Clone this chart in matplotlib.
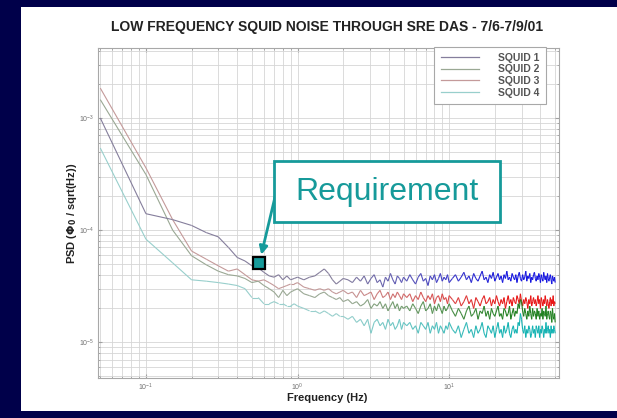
import numpy as np
import matplotlib
matplotlib.use('Agg')
import matplotlib.pyplot as plt
from matplotlib.collections import LineCollection
from matplotlib.lines import Line2D
from matplotlib.patches import Rectangle
from matplotlib.ticker import NullFormatter
import matplotlib.colors as mcolors

plt.rcParams['font.family'] = ['Liberation Sans', 'DejaVu Sans']

# Frequency grid (Hz)
freq = [0.05, 0.1, 0.15, 0.2, 0.25, 0.3, 0.35, 0.4, 0.45, 0.5,
        0.55, 0.6, 0.65, 0.7, 0.75, 0.8, 0.85, 0.9, 0.95, 1.0,
        1.1, 1.2, 1.3, 1.4, 1.5, 1.6, 1.7, 1.8, 1.9, 2.0,
        2.15, 2.3, 2.45, 2.6, 2.75, 2.9, 3.05, 3.2, 3.35, 3.5,
        3.65, 3.8, 3.95, 4.1, 4.25, 4.4, 4.55, 4.7, 4.85, 5.0,
        5.25, 5.5, 5.75, 6.0, 6.25, 6.5, 6.75, 7.0, 7.25, 7.5,
        7.75, 8.0, 8.25, 8.5, 8.75, 9.0, 9.25, 9.5, 9.75, 10.0,
        10.5, 11, 11.5, 12, 12.5, 13, 13.5, 14, 14.5, 15,
        15.5, 16, 16.5, 17, 17.5, 18, 18.5, 19, 19.5, 20,
        20.5, 21, 21.5, 22, 22.5, 23, 23.5, 24, 24.5, 25,
        25.5, 26, 26.5, 27, 27.5, 28, 28.5, 29, 29.5, 30,
        30.5, 31, 31.5, 32, 32.5, 33, 33.5, 34, 34.5, 35,
        35.5, 36, 36.5, 37, 37.5, 38, 38.5, 39, 39.5, 40,
        40.5, 41, 41.5, 42, 42.5, 43, 43.5, 44, 44.5, 45,
        45.5, 46, 46.5, 47, 47.5, 48, 48.5, 49, 49.5, 50]

# PSD values in micro Phi0 / sqrt(Hz)
squid1 = [1000, 140, 124, 110, 95, 87, 70, 57, 53, 48,
          46, 42, 39, 38, 40, 36, 39, 36, 37, 38,
          36, 38, 39, 42, 45, 41, 36, 33, 35, 37,
          36, 34, 38, 35, 39, 33, 37, 40, 34, 36,
          31, 38, 35, 41, 36, 33, 39, 37, 34, 38,
          35, 40, 36, 33, 38, 41, 35, 37, 32, 39,
          36, 40, 34, 37, 41, 35, 38, 36, 40, 34,
          37, 40, 35, 38, 42, 36, 39, 34, 41, 37,
          35, 39, 43, 36, 38, 34, 40, 37, 42, 35,
          38, 41, 36, 39, 34, 40, 37, 43, 36, 38,
          35, 41, 38, 36, 40, 34, 39, 42, 37, 35,
          40, 36, 38, 43, 35, 39, 37, 41, 34, 38,
          36, 40, 42, 37, 35, 39, 36, 41, 38, 34,
          40, 37, 35, 42, 38, 36, 39, 34, 41, 37,
          35, 38, 40, 36, 33, 39, 37, 35, 38, 34]

squid2 = [1460, 313, 100, 59, 49, 43, 40, 39, 37, 34,
          35, 32, 30, 28, 25, 29, 26, 28, 29, 30,
          27, 26, 25, 27, 28, 26, 25, 24, 25, 23,
          24, 22, 23, 21, 22, 24, 20, 22, 21, 23,
          20, 22, 19, 21, 23, 20, 22, 19, 21, 20,
          21, 19, 22, 20, 18, 21, 23, 19, 20, 22,
          18, 21, 19, 22, 20, 18, 21, 19, 20, 22,
          19, 17, 20, 18, 16, 19, 21, 17, 18, 20,
          16, 19, 18, 21, 17, 19, 16, 20, 18, 17,
          19, 21, 17, 18, 16, 20, 19, 17, 18, 21,
          16, 18, 20, 17, 19, 18, 22, 20, 24, 23,
          19, 17, 20, 18, 16, 19, 17, 21, 18, 16,
          20, 17, 19, 18, 16, 20, 17, 19, 16, 18,
          17, 20, 16, 19, 18, 17, 21, 16, 18, 19,
          17, 16, 19, 18, 15, 20, 17, 16, 18, 15]

squid3 = [1850, 359, 124, 65, 55, 48, 43, 45, 40, 36,
          35, 36, 34, 32, 30, 31, 32, 33, 33, 34,
          31, 30, 29, 30, 29, 30, 28, 27, 28, 29,
          27, 28, 25, 29, 26, 27, 28, 24, 27, 29,
          25, 26, 28, 24, 27, 25, 28, 26, 24, 27,
          25, 27, 23, 26, 24, 28, 25, 23, 26, 24,
          27, 22, 25, 26, 23, 27, 24, 25, 22, 26,
          24, 22, 25, 21, 23, 26, 22, 24, 20, 25,
          23, 21, 24, 26, 22, 23, 25, 21, 24, 22,
          26, 23, 21, 24, 22, 25, 20, 23, 26, 22,
          24, 21, 25, 23, 22, 26, 24, 22, 27, 23,
          21, 24, 22, 25, 23, 20, 24, 22, 26, 21,
          23, 25, 22, 24, 21, 23, 26, 22, 24, 20,
          25, 23, 21, 24, 22, 26, 23, 21, 24, 22,
          20, 23, 25, 21, 24, 22, 26, 21, 23, 22]

squid4 = [540, 83, 51, 36, 35, 34, 33, 32, 30, 25,
          25, 22, 22, 23, 22, 22, 21, 21, 22, 21,
          20, 19, 19, 18, 19, 18, 17, 18, 17, 17,
          16, 17, 15, 16, 14, 16, 12, 15, 16, 14,
          15, 13, 16, 14, 15, 13, 14, 16, 13, 15,
          14, 15, 13, 14, 12, 15, 14, 13, 15, 12,
          14, 13, 15, 12, 14, 13, 12, 14, 13, 15,
          13, 12, 14, 11, 13, 15, 12, 13, 11, 14,
          12, 13, 15, 12, 11, 14, 13, 12, 14, 11,
          13, 15, 12, 13, 11, 14, 12, 13, 15, 12,
          11, 13, 14, 12, 13, 12, 15, 14, 18, 16,
          13, 12, 14, 11, 13, 12, 14, 13, 11, 12,
          14, 12, 13, 11, 14, 13, 12, 14, 11, 13,
          12, 14, 13, 11, 13, 12, 15, 12, 13, 14,
          12, 13, 11, 14, 12, 13, 12, 14, 13, 12]

labels = ['SQUID 1', 'SQUID 2', 'SQUID 3', 'SQUID 4']
series = [squid1, squid2, squid3, squid4]

# requirement point
req_f = 0.56
req_psd = 5.1e-5

low_colors = ['#857e9c', '#9aa894', '#c49a9a', '#98cfcc']
high_colors = ['#1414e0', '#1f801f', '#e81414', '#12b2b2']
teal = '#169a9a'

W, H = 617, 418
fig = plt.figure(figsize=(6.17, 4.18), dpi=100, facecolor='#00004a')
fig.add_artist(Rectangle((21 / W, 1 - 411 / H), 596 / W, 404 / H,
                         transform=fig.transFigure, fc='white', ec='none', zorder=-1))

ax = fig.add_axes([97.6 / W, 1 - 378 / H, 461.4 / W, 330 / H])
ax.set_xscale('log')
ax.set_yscale('log')
ax.set_xlim(0.048, 53)
ax.set_ylim(10 ** -5.32, 10 ** -2.375)

f = np.array(freq)
fmid = np.sqrt(f[:-1] * f[1:])
t = np.clip((np.log10(fmid) - np.log10(2)) / (np.log10(25) - np.log10(2)), 0, 1)

for vals, lc, hc in zip(series[::-1], low_colors[::-1], high_colors[::-1]):
    y = np.array(vals) * 1e-6
    pts = np.column_stack([f, y])
    segs = np.stack([pts[:-1], pts[1:]], axis=1)
    c0 = np.array(mcolors.to_rgb(lc))
    c1 = np.array(mcolors.to_rgb(hc))
    cols = (1 - t)[:, None] * c0 + t[:, None] * c1
    ax.add_collection(LineCollection(segs, colors=cols, linewidths=0.8, zorder=3))

# grid, MATLAB style
ax.grid(True, which='both', color='#d6d6d6', linewidth=0.6)
ax.set_axisbelow(True)
for s in ax.spines.values():
    s.set_color('#a8a8a8')
    s.set_linewidth(0.8)
ax.tick_params(which='both', direction='in', top=True, right=True, colors='#a0a0a0',
               labelcolor='#707070', labelsize=5, pad=2.5)
ax.tick_params(which='major', length=3)
ax.tick_params(which='minor', length=1.5)
ax.xaxis.set_minor_formatter(NullFormatter())
ax.yaxis.set_minor_formatter(NullFormatter())

ax.set_xlabel('Frequency (Hz)', fontsize=8, fontweight='bold', color='#222222')
ax.set_ylabel(r'PSD ($\mathbf{\Phi_0}$ / sqrt(Hz))', fontsize=8, fontweight='bold', color='#222222')
ax.xaxis.set_label_coords(0.498, -0.045)
ax.yaxis.set_label_coords(-0.04, 0.5)

fig.text(327 / W, 1 - 27 / H, 'LOW FREQUENCY SQUID NOISE THROUGH SRE DAS - 7/6-7/9/01',
         ha='center', va='center', fontsize=10, fontweight='bold', color='#222222')

handles = [Line2D([], [], color=c, linewidth=0.9) for c in low_colors]
leg = ax.legend(handles, labels, loc='upper right', bbox_to_anchor=(0.972, 1.004),
                borderaxespad=0, fancybox=False, framealpha=1,
                handlelength=3.65, handletextpad=1.9, labelspacing=0.15, borderpad=0.6,
                prop={'weight': 'bold', 'size': 7.5})
leg.get_frame().set_edgecolor('#a8a8a8')
leg.get_frame().set_linewidth(0.8)
for txt in leg.get_texts():
    txt.set_color('#555555')

# requirement marker and callout
ax.plot([req_f], [req_psd], marker='s', markersize=9, markerfacecolor=teal,
        markeredgecolor='black', markeredgewidth=1.6, zorder=6)
fig.add_artist(Rectangle((274 / W, 1 - 222 / H), 226 / W, 61 / H, transform=fig.transFigure,
                         fc='white', ec=teal, lw=2, zorder=5))
fig.text(387 / W, 1 - 192 / H, 'Requirement', ha='center', va='center',
         fontsize=23, color=teal, zorder=6)
ax.annotate('', xy=(req_f, req_psd), xycoords='data',
            xytext=(275, H - 197), textcoords='figure pixels',
            arrowprops=dict(arrowstyle='-|>', color=teal, lw=2,
                            shrinkA=0, shrinkB=6, mutation_scale=12),
            zorder=7)

fig.savefig('out.png', dpi=100, facecolor=fig.get_facecolor())
